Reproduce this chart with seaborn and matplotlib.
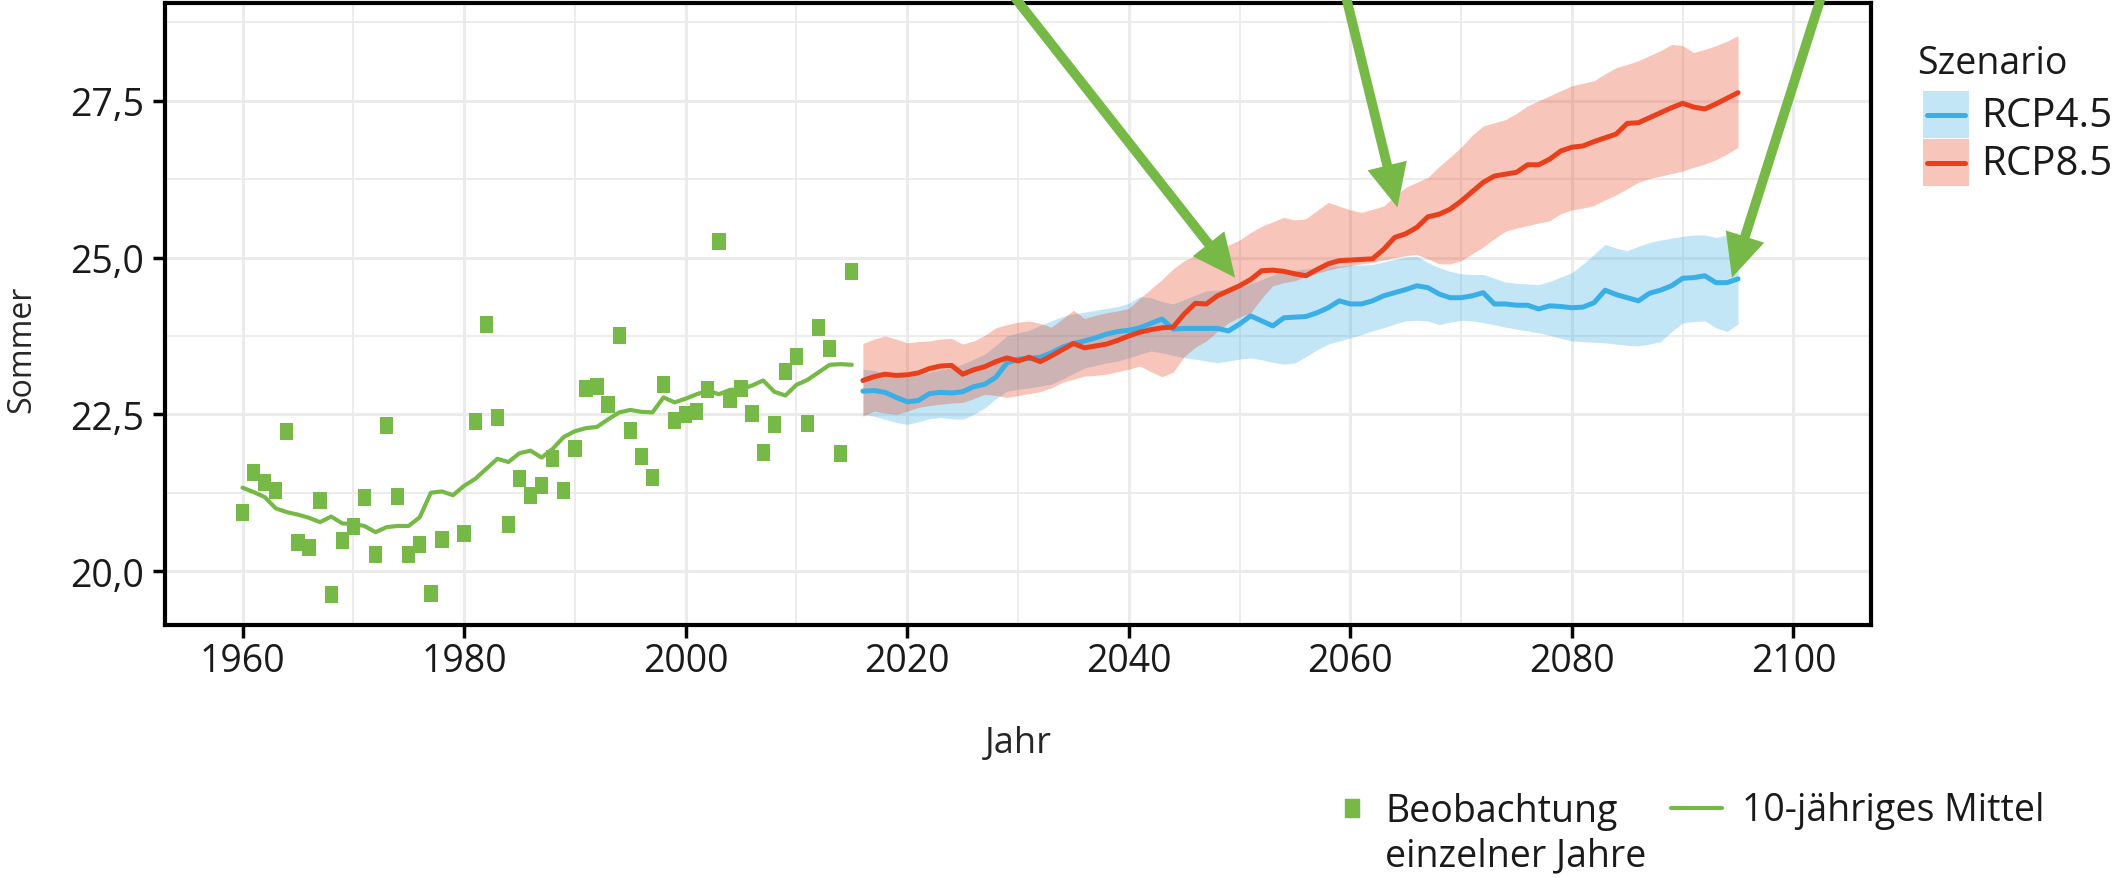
import numpy as np
import pandas as pd
import matplotlib
matplotlib.use("Agg")
import matplotlib.pyplot as plt
import seaborn as sns
from matplotlib.ticker import MultipleLocator, FuncFormatter
from matplotlib.patches import Rectangle
from matplotlib.lines import Line2D
from matplotlib import font_manager

# --- Beobachtungen (Sommer, °C) ---
obs_years = list(range(1960, 2016))
obs_values = [20.94, 21.58, 21.41, 21.28, 22.23, 20.46, 20.38, 21.13, 19.62, 20.48,
              20.71, 21.18, 20.26, 22.32, 21.19, 20.26, 20.43, 19.65, 20.51, np.nan,
              20.60, 22.38, 23.93, 22.45, 20.75, 21.47, 21.20, 21.37, 21.80, 21.29,
              21.96, 22.91, 22.94, 22.65, 23.75, 22.24, 21.83, 21.49, 22.98, 22.40,
              22.50, 22.54, 22.89, 25.25, 22.74, 22.91, 22.52, 21.89, 22.34, 23.19,
              23.42, 22.36, 23.88, 23.55, 21.88, 24.77]
mean10_values = [21.33, 21.26, 21.18, 21.00, 20.94, 20.90, 20.85, 20.78, 20.87, 20.76,
                 20.75, 20.72, 20.62, 20.70, 20.72, 20.72, 20.86, 21.25, 21.27, 21.21,
                 21.36, 21.47, 21.63, 21.79, 21.74, 21.88, 21.92, 21.81, 21.95, 22.14,
                 22.23, 22.28, 22.30, 22.42, 22.53, 22.57, 22.54, 22.53, 22.77, 22.69,
                 22.75, 22.82, 22.88, 22.82, 22.89, 22.90, 22.96, 23.04, 22.86, 22.80,
                 22.97, 23.05, 23.17, 23.29, 23.30, 23.29]

# --- Szenarien ---
scen_years = list(range(2016, 2096))
rcp45_mean = [22.87, 22.88, 22.85, 22.77, 22.70, 22.72, 22.83, 22.85, 22.84, 22.86,
              22.94, 22.98, 23.09, 23.32, 23.38, 23.39, 23.41, 23.48, 23.57, 23.63,
              23.67, 23.72, 23.78, 23.82, 23.84, 23.88, 23.95, 24.02, 23.86, 23.87,
              23.87, 23.87, 23.87, 23.83, 23.94, 24.07, 23.99, 23.91, 24.04, 24.05,
              24.06, 24.12, 24.20, 24.31, 24.26, 24.26, 24.31, 24.39, 24.44, 24.49,
              24.55, 24.52, 24.42, 24.36, 24.36, 24.39, 24.44, 24.26, 24.26, 24.24,
              24.24, 24.18, 24.23, 24.22, 24.20, 24.21, 24.28, 24.48, 24.41, 24.36,
              24.31, 24.43, 24.48, 24.55, 24.67, 24.68, 24.71, 24.60, 24.60, 24.66]
rcp45_lo = [22.50, 22.47, 22.42, 22.37, 22.34, 22.38, 22.43, 22.45, 22.43, 22.42,
            22.50, 22.60, 22.75, 22.87, 22.90, 22.92, 22.95, 22.98, 23.06, 23.15,
            23.24, 23.28, 23.32, 23.35, 23.40, 23.46, 23.51, 23.48, 23.44, 23.40,
            23.38, 23.35, 23.32, 23.35, 23.38, 23.40, 23.37, 23.33, 23.30, 23.32,
            23.42, 23.53, 23.62, 23.67, 23.72, 23.77, 23.83, 23.88, 23.94, 23.99,
            24.00, 23.99, 23.93, 23.97, 24.00, 23.99, 23.96, 23.93, 23.89, 23.86,
            23.83, 23.80, 23.76, 23.71, 23.67, 23.66, 23.65, 23.64, 23.62, 23.60,
            23.59, 23.62, 23.66, 23.82, 23.96, 23.98, 23.99, 23.88, 23.82, 23.94]
rcp45_hi = [23.22, 23.20, 23.15, 23.12, 23.09, 23.13, 23.17, 23.21, 23.24, 23.30,
            23.38, 23.46, 23.60, 23.75, 23.80, 23.84, 23.92, 23.99, 24.06, 24.10,
            24.13, 24.16, 24.19, 24.22, 24.27, 24.38, 24.36, 24.30, 24.26, 24.33,
            24.40, 24.47, 24.48, 24.50, 24.52, 24.58, 24.65, 24.72, 24.79, 24.80,
            24.82, 24.84, 24.86, 24.87, 24.88, 24.88, 24.89, 24.93, 24.97, 25.01,
            25.02, 24.92, 24.84, 24.78, 24.74, 24.73, 24.73, 24.67, 24.61, 24.59,
            24.58, 24.57, 24.62, 24.69, 24.76, 24.90, 25.05, 25.21, 25.15, 25.11,
            25.18, 25.24, 25.28, 25.31, 25.34, 25.36, 25.36, 25.32, 25.36, 25.40]
rcp85_mean = [23.04, 23.10, 23.14, 23.12, 23.13, 23.16, 23.23, 23.27, 23.28, 23.14,
              23.21, 23.26, 23.34, 23.40, 23.35, 23.41, 23.34, 23.43, 23.53, 23.63,
              23.56, 23.59, 23.62, 23.68, 23.75, 23.81, 23.85, 23.88, 23.89, 24.10,
              24.27, 24.26, 24.39, 24.47, 24.55, 24.65, 24.79, 24.80, 24.78, 24.74,
              24.71, 24.81, 24.90, 24.95, 24.96, 24.97, 24.98, 25.13, 25.32, 25.38,
              25.48, 25.65, 25.69, 25.77, 25.90, 26.05, 26.20, 26.30, 26.33, 26.36,
              26.48, 26.48, 26.57, 26.70, 26.76, 26.78, 26.85, 26.91, 26.97, 27.14,
              27.15, 27.23, 27.31, 27.39, 27.46, 27.40, 27.37, 27.45, 27.54, 27.63]
rcp85_lo = [22.47, 22.55, 22.52, 22.50, 22.55, 22.61, 22.64, 22.66, 22.68, 22.69,
            22.75, 22.82, 22.80, 22.77, 22.80, 22.83, 22.86, 22.92, 23.01, 23.06,
            23.11, 23.12, 23.14, 23.18, 23.22, 23.27, 23.18, 23.10, 23.17, 23.42,
            23.57, 23.67, 23.82, 23.96, 24.05, 24.12, 24.35, 24.55, 24.60, 24.63,
            24.70, 24.75, 24.80, 24.84, 24.87, 24.90, 24.92, 24.96, 25.00, 25.03,
            25.05, 24.98, 24.90, 24.90, 24.95, 25.06, 25.17, 25.30, 25.42, 25.47,
            25.51, 25.55, 25.59, 25.70, 25.76, 25.79, 25.83, 25.92, 26.00, 26.10,
            26.20, 26.26, 26.30, 26.34, 26.38, 26.44, 26.49, 26.56, 26.65, 26.76]
rcp85_hi = [23.63, 23.70, 23.75, 23.70, 23.64, 23.66, 23.67, 23.70, 23.71, 23.62,
            23.67, 23.76, 23.88, 23.93, 23.97, 23.99, 23.95, 23.89, 24.02, 24.16,
            24.03, 24.08, 24.12, 24.15, 24.19, 24.35, 24.50, 24.65, 24.82, 24.95,
            25.03, 25.11, 25.15, 25.20, 25.28, 25.40, 25.50, 25.57, 25.64, 25.60,
            25.62, 25.75, 25.88, 25.82, 25.76, 25.72, 25.77, 25.82, 25.98, 26.12,
            26.20, 26.28, 26.45, 26.60, 26.76, 26.95, 27.10, 27.15, 27.20, 27.30,
            27.42, 27.50, 27.58, 27.66, 27.74, 27.78, 27.82, 27.93, 28.03, 28.08,
            28.14, 28.22, 28.30, 28.40, 28.38, 28.27, 28.32, 28.38, 28.45, 28.54]

scenario_names = ["RCP4.5", "RCP8.5"]
obs_labels = ["Beobachtung\neinzelner Jahre", "10-jähriges Mittel"]

# arrows: (start year, start value) -> (tip year, tip value)
arrows = [((2027.7, 29.6), (2049.6, 24.68)),
          ((2059.0, 29.6), (2064.25, 25.80)),
          ((2103.3, 29.6), (2094.45, 24.68))]

GREEN = "#76B947"
BLUE = "#3AAEE6"
RED = "#E8401C"
W, H = 2126, 879
LW_SCEN = 3.6
LW_MEAN = 3.0

# --- Style ---
sns.set_theme(style="whitegrid")
available = {f.name for f in font_manager.fontManager.ttflist}
fam = [f for f in ["Open Sans", "Lato", "DejaVu Sans"] if f in available]
plt.rcParams["font.family"] = fam
plt.rcParams["text.color"] = "#1a1a1a"

obs_df = pd.DataFrame({"Jahr": obs_years, "Wert": obs_values, "Mittel": mean10_values})
scen_df = pd.concat([
    pd.DataFrame({"Jahr": scen_years, "Wert": rcp45_mean, "lo": rcp45_lo,
                  "hi": rcp45_hi, "Szenario": "RCP4.5"}),
    pd.DataFrame({"Jahr": scen_years, "Wert": rcp85_mean, "lo": rcp85_lo,
                  "hi": rcp85_hi, "Szenario": "RCP8.5"}),
])
palette = {"RCP4.5": BLUE, "RCP8.5": RED}

# slightly tall rectangle marker, as in the original
rect = [(-0.39, -0.5), (0.39, -0.5), (0.39, 0.5), (-0.39, 0.5), (-0.39, -0.5)]


def fx(px):
    return px / W


def fy(py):
    return 1 - py / H


fig = plt.figure(figsize=(W / 100, H / 100), dpi=100)
ax = fig.add_axes([fx(165), fy(626), (1871 - 165) / W, (626 - 4) / H])

# ribbons
for name in scenario_names:
    d = scen_df[scen_df["Szenario"] == name]
    ax.fill_between(d["Jahr"], d["lo"], d["hi"], color=palette[name],
                    alpha=0.3, lw=0, zorder=2)

sns.lineplot(data=scen_df, x="Jahr", y="Wert", hue="Szenario", palette=palette,
             lw=LW_SCEN, legend=False, ax=ax, zorder=3)

sns.scatterplot(data=obs_df, x="Jahr", y="Wert", marker=rect, s=150, color=GREEN,
                edgecolor="none", ax=ax, zorder=3)
sns.lineplot(data=obs_df, x="Jahr", y="Mittel", color=GREEN, lw=LW_MEAN, ax=ax, zorder=4)

# arrows
for (x0, y0), (x1, y1) in arrows:
    ax.annotate("", xy=(x1, y1), xytext=(x0, y0), xycoords="data", textcoords="data",
                annotation_clip=False,
                arrowprops=dict(arrowstyle="simple,head_length=3.1,head_width=2.9,tail_width=0.7",
                                mutation_scale=10, fc=GREEN, ec="none", lw=0,
                                shrinkA=0, shrinkB=0),
                zorder=6)

# axes
ax.set_xlim(1953, 2107)
ax.set_ylim(19.14, 29.06)
ax.xaxis.set_major_locator(MultipleLocator(20))
ax.xaxis.set_minor_locator(MultipleLocator(10))
ax.yaxis.set_major_locator(MultipleLocator(2.5))
ax.yaxis.set_minor_locator(MultipleLocator(1.25))
ax.yaxis.set_major_formatter(FuncFormatter(lambda v, p: f"{v:.1f}".replace(".", ",")))
ax.grid(which="major", color="#EBEBEB", lw=2.2)
ax.grid(which="minor", color="#EBEBEB", lw=1.3)
ax.set_axisbelow(True)
for s in ax.spines.values():
    s.set_color("black")
    s.set_linewidth(3)
ax.tick_params(axis="both", which="major", direction="out", length=9, width=2.5,
               color="black", labelsize=27, labelcolor="#1a1a1a",
               bottom=True, left=True)
ax.tick_params(axis="x", which="major", pad=3)
ax.tick_params(axis="y", which="major", pad=6)
ax.tick_params(which="minor", length=0)

ax.set_xlabel("Jahr", fontsize=26, va="center")
ax.xaxis.set_label_coords(0.5, -0.19)
ax.set_ylabel("Sommer", fontsize=23, va="center")
ax.yaxis.set_label_coords(-0.084, 0.445)

# scenario legend (title, boxes with line, labels)
fig.text(fx(1917), fy(64), "Szenario", fontsize=27, ha="left", va="center")
box_tops = [92, 140]
for name, top in zip(scenario_names, box_tops):
    fig.add_artist(Rectangle((fx(1923), fy(top + 47)), 46 / W, 47 / H,
                             transform=fig.transFigure, facecolor=palette[name],
                             alpha=0.3, lw=0))
    yc = fy(top + 23.5)
    fig.add_artist(Line2D([fx(1927), fx(1965)], [yc, yc], lw=LW_SCEN,
                          color=palette[name], transform=fig.transFigure))
    fig.text(fx(1981), fy(top + 25), name, fontsize=29, ha="left", va="center")

# bottom legend (observations)
fig.add_artist(Line2D([fx(1352)], [fy(809)], marker=rect, ms=13, ls="none",
                      color=GREEN, transform=fig.transFigure))
fig.text(fx(1385), fy(834), obs_labels[0], fontsize=27, ha="left", va="center",
         linespacing=1.22)
fig.add_artist(Line2D([fx(1671), fx(1722)], [fy(809), fy(809)], lw=LW_MEAN,
                      color=GREEN, transform=fig.transFigure))
fig.text(fx(1742), fy(811), obs_labels[1], fontsize=27, ha="left", va="center")

fig.savefig("out.png", dpi=100)
